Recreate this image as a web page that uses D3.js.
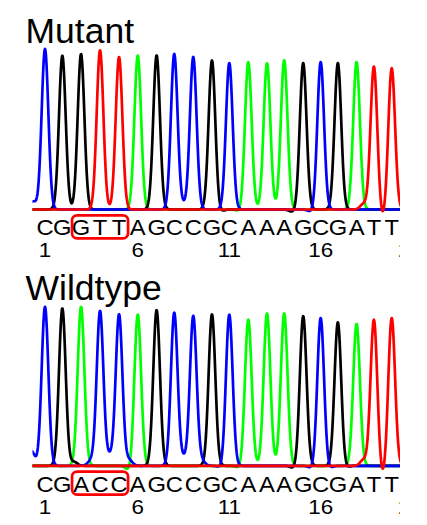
<!DOCTYPE html>
<html>
<head>
<meta charset="utf-8">
<script src="https://cdn.jsdelivr.net/npm/d3@7"></script>
<style>
  body { margin: 0; background: #fff; }
  text { font-family: "Liberation Sans", Arial, sans-serif; }
</style>
</head>
<body>
<div class="chart"></div>
<script>
// base calls, one letter per peak
const mutantSeq   = ['C','G','G','T','T','A','G','C','C','G','C','A','A','A','G','C','G','A','T','T']
const wildtypeSeq = ['C','G','A','C','C','A','G','C','C','G','C','A','A','A','G','C','G','A','T','T']

// peak locations (scan number) shared by both reads
const peakLoc = [100, 111.4, 123.7, 136.2, 148.7, 161, 173.4, 185, 197.5, 209.8,
                 221.2, 233.7, 246, 257.3, 269.8, 281.3, 292.6, 304.9, 316.3, 328]

// peak heights (signal units)
const mutantHeights   = [1605, 1538, 1555, 1592, 1525, 1538, 1542, 1555, 1525, 1492,
                         1465, 1475, 1462, 1492, 1465, 1475, 1465, 1475, 1432, 1415]
const wildtypeHeights = [1590, 1574, 1590, 1547, 1514, 1514, 1557, 1530, 1497, 1514,
                         1514, 1464, 1524, 1524, 1497, 1480, 1437, 1420, 1464, 1480]

// small background bumps: [base, scan, height]
const mutantMinor = [
    ['C', 92, 80], ['C', 191, 40], ['G', 215, -25], ['A', 228.7, -25],
    ['G', 263, -25], ['C', 275.4, -25], ['T', 309.5, 55], ['T', 322, -100]
]
const wildtypeMinor = [
    ['C', 91, 150], ['G', 119, 40], ['C', 130.2, 50], ['C', 142.5, 90],
    ['C', 155.2, 60], ['A', 155.5, -50], ['C', 191, 70], ['C', 203, 50],
    ['C', 216.4, -25], ['A', 228.2, -25], ['G', 263.7, -25], ['C', 275.6, -25],
    ['C', 286.7, -25], ['G', 297.3, -25], ['T', 309.5, 60], ['T', 322, -115]
]

// position ruler under the base calls
const tickLabels = [1, 6, 11, 16, 21]
const tickScans  = [100, 161, 221.2, 281.3, 340.5]

// bases 3-5 are highlighted
const boxFrom = 3, boxTo = 5

const channelOrder = ['A', 'G', 'C', 'T']
const colors = {A: '#00ff00', G: '#000000', C: '#0000ff', T: '#ff0000'}

const width = 427, height = 525
const left = 32.5, right = 400
const sigma = 2.2

const svg = d3.select('.chart')
    .append('svg')
    .attr('width', width)
    .attr('height', height)

const x = d3.scaleLinear()
    .domain([100, 328])
    .range([45, 391.7])

svg.append('clipPath')
    .attr('id', 'clip')
    .append('rect')
    .attr('x', left)
    .attr('y', 0)
    .attr('width', right - left)
    .attr('height', height)

const scans = d3.range(x.invert(left) - 1, x.invert(right) + 1, 0.25)

function drawPanel(title, seq, heights, minor, baseline) {
    const g = svg.append('g')

    const y = d3.scaleLinear()
        .domain([0, 1700])
        .range([baseline, baseline - 170])

    g.append('text')
        .attr('x', 25.5)
        .attr('y', baseline - 166.2)
        .attr('font-size', 35.5)
        .attr('fill', '#000')
        .text(title)

    const plot = g.append('g').attr('clip-path', 'url(#clip)')

    const peaks = seq.map((b, i) => ({base: b, loc: peakLoc[i], h: heights[i]}))
        .concat(minor.map(m => ({base: m[0], loc: m[1], h: m[2]})))

    const line = d3.line()
        .x(d => x(d[0]))
        .y(d => y(d[1]))

    channelOrder.forEach(b => {
        const own = peaks.filter(p => p.base === b)
        const trace = scans.map(s => [s, d3.sum(own, p => p.h * Math.exp(-((s - p.loc) ** 2) / (2 * sigma * sigma)))])
        plot.append('path')
            .datum(trace)
            .attr('fill', 'none')
            .attr('stroke', colors[b])
            .attr('stroke-width', 2.7)
            .attr('stroke-linejoin', 'round')
            .attr('d', line)
    })

    plot.selectAll('text.base')
        .data(seq)
        .enter()
        .append('text')
        .attr('class', 'base')
        .attr('transform', (d, i) => `translate(${x(peakLoc[i])},${baseline + 25.8}) scale(1.08,1)`)
        .attr('text-anchor', 'middle')
        .attr('font-size', 22)
        .text(d => d)

    plot.selectAll('text.tick')
        .data(tickLabels)
        .enter()
        .append('text')
        .attr('class', 'tick')
        .attr('transform', (d, i) => `translate(${x(tickScans[i])},${baseline + 47.7}) scale(1.12,1)`)
        .attr('text-anchor', 'middle')
        .attr('font-size', 20)
        .text(d => d)

    const x0 = x(peakLoc[boxFrom - 1]) - 9
    const x1 = x(peakLoc[boxTo - 1]) + 9
    g.append('rect')
        .attr('x', x0)
        .attr('y', baseline + 5.8)
        .attr('width', x1 - x0)
        .attr('height', 23)
        .attr('rx', 5)
        .attr('fill', 'none')
        .attr('stroke', '#ff0000')
        .attr('stroke-width', 2.7)
}

drawPanel('Mutant', mutantSeq, mutantHeights, mutantMinor, 209.5)
drawPanel('Wildtype', wildtypeSeq, wildtypeHeights, wildtypeMinor, 465.8)
</script>
</body>
</html>
